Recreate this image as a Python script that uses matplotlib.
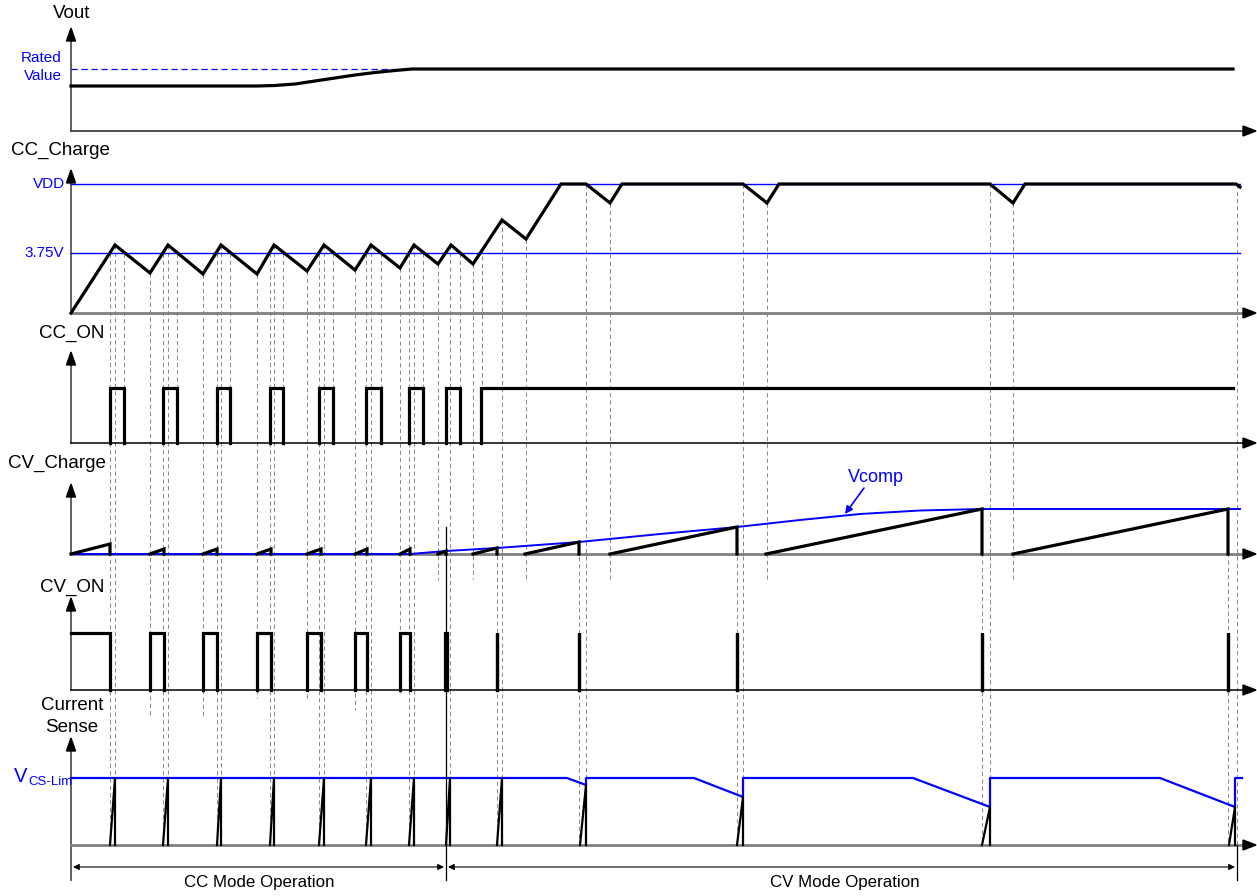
import matplotlib
matplotlib.use("Agg")
import matplotlib.pyplot as plt
from matplotlib.patches import Polygon

plt.rcParams['font.family'] = ['Liberation Sans', 'DejaVu Sans']

# ---------------- data: time along x (px), level = height above panel baseline (px)
vout_t = [71, 257, 275, 295, 315, 335, 355, 375, 395, 412, 1233]
vout_v = [45, 45, 45.5, 47, 50, 53, 56, 58.5, 60.5, 62, 62]
vout_rated = 62

cc_charge_t = [71, 115, 150, 168, 203, 221, 257, 274, 307, 324, 355, 371, 400, 414,
               438, 451, 473, 502, 526, 561, 586, 610, 622, 743, 767, 779, 990, 1013,
               1025, 1236, 1240]
cc_charge_v = [0, 68, 40, 68, 39, 68, 39, 68, 42, 68, 43, 68, 45, 68,
               49, 68, 49, 93, 74, 129, 129, 110, 129, 129, 110, 129, 129, 110,
               129, 129, 126]
cc_ref_375 = 60
cc_ref_vdd = 129

cc_on_rise = [110, 163, 217, 270, 319, 366, 409, 446, 481]
cc_on_fall = [124, 177, 230, 283, 333, 381, 423, 460, 1233]
cc_on_high = 55

cv_ramp_start = [71, 150, 203, 257, 307, 355, 400, 438, 473, 525, 610, 766, 1013]
cv_ramp_end = [110, 164, 217, 271, 321, 367, 410, 446, 497, 579, 737, 982, 1228]
cv_ramp_peak = [10, 5, 5, 5, 5, 5, 5, 3, 6, 12, 27, 45, 45]

vcomp_t = [71, 410, 446, 497, 579, 660, 737, 800, 860, 920, 982, 1240]
vcomp_v = [0, 0, 3, 6, 12, 20, 27, 34, 40, 43.5, 45, 45]

cv_on_rise = [71, 150, 203, 257, 307, 355, 400, 445, 497, 579, 737, 982, 1228]
cv_on_fall = [110, 164, 217, 271, 321, 367, 410, 447, 497, 579, 737, 982, 1228]
cv_on_high = 57

cs_start = [110, 163, 217, 270, 319, 366, 409, 446, 497, 580, 737, 982, 1229]
cs_end = [115, 168, 221, 274, 324, 371, 414, 450, 502, 586, 743, 990, 1235]
cs_peak = [67, 67, 67, 67, 67, 67, 67, 67, 67, 60, 48, 38, 38]
cs_lim_t = [71, 567, 586, 586, 694, 743, 743, 913, 990, 990, 1160, 1235, 1235, 1242]
cs_lim_v = [67, 67, 60, 67, 67, 48, 67, 67, 38, 67, 67, 38, 67, 67]

# timing guide lines (x, top y, bottom y) in figure px
guide_x = [110, 163, 217, 270, 319, 366, 409,
           115, 168, 221, 274, 324, 371, 414, 450,
           124, 177, 230, 283, 333, 381, 423, 460,
           150, 203, 257, 307, 355, 400, 438, 473,
           482, 497, 502, 526,
           579, 586, 610, 737, 743, 767, 982, 990, 1013, 1228, 1237]
guide_top = [253, 253, 253, 253, 253, 253, 253,
             245, 245, 245, 245, 245, 245, 245, 245,
             253, 253, 253, 253, 253, 253, 253, 253,
             273, 274, 274, 271, 270, 268, 264, 264,
             256, 548, 220, 239,
             542, 184, 203, 527, 184, 203, 509, 184, 203, 509, 184]
guide_bot = [845, 845, 845, 845, 845, 845, 845,
             845, 845, 845, 845, 845, 845, 845, 845,
             443, 443, 443, 443, 443, 443, 443, 443,
             717, 717, 698, 700, 710, 693, 580, 579,
             443, 845, 845, 582,
             845, 845, 580, 845, 845, 580, 845, 845, 580, 845, 845]

# ---------------- layout
W, H = 1257, 896
X0 = 71
XEND = 1256
B_VOUT, B_CCC, B_CCON, B_CVC, B_CVON, B_CS = 131, 313, 443, 554, 690, 845
TOPS = {B_VOUT: 28, B_CCC: 170, B_CCON: 352, B_CVC: 484, B_CVON: 598, B_CS: 738}

fig = plt.figure(figsize=(W / 100, H / 100), dpi=100)
ax = fig.add_axes([0, 0, 1, 1])
ax.set_xlim(0, W)
ax.set_ylim(H, 0)
ax.axis('off')

BLUE = '#0000ff'
GRAY = '#808080'
WLW = 2.3


def yv(base, vals):
    return [base - v for v in vals]


# guides
for x, t, b in zip(guide_x, guide_top, guide_bot):
    ax.plot([x, x], [t, b], color='#8c8c8c', lw=0.75, dashes=(4, 3), zorder=1)

# axes (vertical + horizontal)
base_styles = {B_VOUT: ('#404040', 1.3), B_CCC: (GRAY, 2.0), B_CCON: ('black', 1.1),
               B_CVC: (GRAY, 2.0), B_CVON: ('black', 1.1), B_CS: (GRAY, 2.0)}
for base, top in TOPS.items():
    bottom = 880 if base == B_CS else base
    ax.plot([X0, X0], [top + 8, bottom], color='#555555', lw=1.3, zorder=2)
    ax.add_patch(Polygon([(X0, top), (X0 - 4.5, top + 13), (X0 + 4.5, top + 13)],
                         closed=True, color='black', zorder=3))
    c, lw = base_styles[base]
    ax.plot([X0, XEND - 10], [base, base], color=c, lw=lw, zorder=2)
    ax.add_patch(Polygon([(XEND, base), (XEND - 13, base - 5), (XEND - 13, base + 5)],
                         closed=True, color='black', zorder=3))

# --- Vout
ax.plot([X0, vout_t[-2]], [B_VOUT - vout_rated] * 2, color=BLUE, lw=0.9,
        dashes=(5, 3), zorder=3)
ax.plot(vout_t, yv(B_VOUT, vout_v), color='black', lw=WLW, zorder=5,
        solid_joinstyle='round')

# --- CC_Charge
for lvl in (cc_ref_375, cc_ref_vdd):
    ax.plot([X0, 1240], [B_CCC - lvl] * 2, color=BLUE, lw=1.0, zorder=3)
ax.plot(cc_charge_t, yv(B_CCC, cc_charge_v), color='black', lw=WLW, zorder=5,
        solid_joinstyle='miter')

# --- CC_ON (pulses only; low level is the baseline)
for i, (r, f) in enumerate(zip(cc_on_rise, cc_on_fall)):
    last = i == len(cc_on_rise) - 1
    xs = [r, r, f] if last else [r, r, f, f]
    ys = [0, cc_on_high, cc_on_high] if last else [0, cc_on_high, cc_on_high, 0]
    ax.plot(xs, yv(B_CCON, ys), color='black', lw=WLW, zorder=5,
            solid_joinstyle='miter')

# --- CV_Charge
ax.plot(vcomp_t, yv(B_CVC, vcomp_v), color=BLUE, lw=1.4, zorder=4)
for s, e, p in zip(cv_ramp_start, cv_ramp_end, cv_ramp_peak):
    ax.plot([s, e, e], [B_CVC, B_CVC - p, B_CVC], color='black', lw=WLW, zorder=5,
            solid_joinstyle='miter')
ax.text(876, 477, 'Vcomp', color=BLUE, fontsize=13, ha='center', va='center')
ax.annotate('', xy=(845, 514), xytext=(864, 488),
            arrowprops=dict(arrowstyle='-|>', color=BLUE, lw=1.2,
                            mutation_scale=11, shrinkA=0, shrinkB=0))

# --- CV_ON
for i, (r, f) in enumerate(zip(cv_on_rise, cv_on_fall)):
    if r == X0:
        xs, ys = [r, f, f], [cv_on_high, cv_on_high, 0]
    else:
        xs, ys = [r, r, f, f], [0, cv_on_high, cv_on_high, 0]
    ax.plot(xs, yv(B_CVON, ys), color='black', lw=WLW, zorder=5,
            solid_joinstyle='miter')

# --- Current Sense
ax.plot(cs_lim_t, yv(B_CS, cs_lim_v), color=BLUE, lw=1.6, zorder=4)
for s, e, p in zip(cs_start, cs_end, cs_peak):
    ax.plot([s, e, e], [B_CS, B_CS - p, B_CS], color='black', lw=1.6, zorder=5)

# mode separators and dimension arrows
ax.plot([446, 446], [527, 880], color='black', lw=0.9, zorder=4)
ax.plot([1237, 1237], [B_CS, 880], color='black', lw=0.9, zorder=4)
for a, b in ((73, 444), (448, 1235)):
    ax.annotate('', xy=(b, 867), xytext=(a, 867),
                arrowprops=dict(arrowstyle='<|-|>', color='black', lw=0.8,
                                mutation_scale=9, shrinkA=0, shrinkB=0))
ax.text(259, 882, 'CC Mode Operation', fontsize=12.2, ha='center', va='center')
ax.text(845, 882, 'CV Mode Operation', fontsize=12.2, ha='center', va='center')

# labels
lab = dict(fontsize=13.5, ha='center', va='center', color='black')
ax.text(72, 13, 'Vout', **lab)
ax.text(60, 150, 'CC_Charge', **lab)
ax.text(72, 333, 'CC_ON', **lab)
ax.text(57, 463, 'CV_Charge', **lab)
ax.text(72, 587, 'CV_ON', **lab)
ax.text(72, 705, 'Current', **lab)
ax.text(72, 727, 'Sense', **lab)

blab = dict(fontsize=11, ha='right', va='center', color=BLUE)
ax.text(62, 58, 'Rated', **blab)
ax.text(62, 76, 'Value', **blab)
ax.text(65, 184, 'VDD', **blab)
ax.text(64, 253, '3.75V', **blab)
ax.text(14, 777, 'V', fontsize=14.5, ha='left', va='center', color=BLUE)
ax.text(28, 782, 'CS-Lim', fontsize=9.5, ha='left', va='center', color=BLUE)

fig.savefig('out.png', dpi=100)
